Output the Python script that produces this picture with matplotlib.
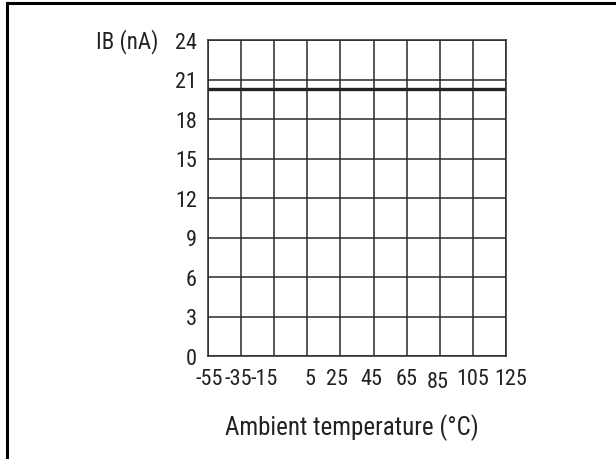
import matplotlib
matplotlib.use("Agg")
import matplotlib.pyplot as plt
from matplotlib import font_manager
from matplotlib.lines import Line2D
from matplotlib.transforms import ScaledTranslation

# data
temps = [-55, -35, -15, 5, 25, 45, 65, 85, 105, 125]
ib_na = [20.3, 20.3, 20.3, 20.3, 20.3, 20.3, 20.3, 20.3, 20.3, 20.3]
y_ticks = [0, 3, 6, 9, 12, 15, 18, 21, 24]
x_tick_labels = ["-55", "-35", "-15", "5", "25", "45", "65", "85", "105", "125"]

# look for a condensed sans, otherwise plain Liberation Sans
fam = None
for want in ["Liberation Sans Narrow", "Roboto Condensed", "Open Sans Condensed",
             "DejaVu Sans Condensed", "Noto Sans Condensed"]:
    for f in font_manager.fontManager.ttflist:
        if (f.name == want or want.replace(" ", "") in f.fname.replace("-", "").replace("_", "")) \
                and "Bold" not in f.fname and "Italic" not in f.fname and "Oblique" not in f.fname:
            fam = font_manager.FontProperties(fname=f.fname)
            break
    if fam is not None:
        break

if fam is not None:
    tick_fs, lab_fs, title_fs = 16, 16.5, 18
    font_manager.fontManager.addfont(fam.get_file())
    plt.rcParams["font.family"] = [fam.get_name(), "DejaVu Sans"]
else:
    tick_fs, lab_fs, title_fs = 14, 16.5, 16.5
    plt.rcParams["font.family"] = ["Liberation Sans", "DejaVu Sans"]

grid_col = "#2a2a2a"

fig = plt.figure(figsize=(6.16, 4.60), dpi=100)
ax = fig.add_axes([208 / 616, 1 - 357 / 460, 298 / 616, 316 / 460])

ax.plot(temps, ib_na, color="#222222", linewidth=2.4, solid_capstyle="butt", zorder=3)

ax.set_xlim(-55, 125)
ax.set_ylim(0, 24)
ax.set_xticks(temps)
ax.set_xticklabels(x_tick_labels)
ax.set_yticks(y_ticks)
ax.grid(True, color=grid_col, linewidth=1.1)
ax.tick_params(axis="both", length=0, labelsize=tick_fs, colors="#222222")
ax.tick_params(axis="x", pad=9)
ax.tick_params(axis="y", pad=8)
for s in ax.spines.values():
    s.set_color(grid_col)
    s.set_linewidth(1.1)

# the original has slightly uneven label placement along x
x_nudge = [(1, 0), (-3, 0), (-10, 0), (3, 0), (-3, 0), (-2, 0), (0, 0), (-2, -3), (0, 0), (5, 0)]
for lab, (dx, dy) in zip(ax.get_xticklabels(), x_nudge):
    lab.set_transform(lab.get_transform() + ScaledTranslation(dx / 100, dy / 100, fig.dpi_scale_trans))

fig.text(158 / 616, 1 - 42 / 460, "IB (nA)", ha="right", va="center",
         fontsize=lab_fs, color="#222222")
fig.text(352 / 616, 1 - 428 / 460, "Ambient temperature (°C)", ha="center",
         va="center", fontsize=title_fs, color="#222222")

# outer frame (left and top edges only)
fig.add_artist(Line2D([7 / 616, 7 / 616], [0, 1 - 4 / 460], transform=fig.transFigure,
                      color="black", linewidth=2.2))
fig.add_artist(Line2D([7 / 616, 1], [1 - 4 / 460, 1 - 4 / 460], transform=fig.transFigure,
                      color="black", linewidth=2.2))

fig.savefig("out.png", dpi=100)
